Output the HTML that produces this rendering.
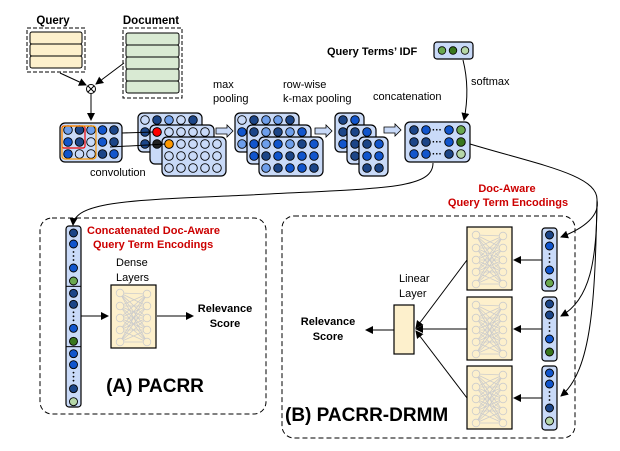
<!DOCTYPE html>
<html><head><meta charset="utf-8"><style>
html,body{margin:0;padding:0;background:#fff;width:620px;height:451px;overflow:hidden}
svg text{font-family:"Liberation Sans",Arial,sans-serif}
</style></head><body>
<svg id="s" width="620" height="451" viewBox="0 0 620 451" xmlns="http://www.w3.org/2000/svg">
<defs>
<marker id="ah" markerWidth="8" markerHeight="8" refX="7" refY="4" orient="auto" markerUnits="userSpaceOnUse"><path d="M0,0 L8,4 L0,8 z" fill="#000"/></marker>
<g id="nn">
 <rect x="0" y="0" width="45" height="63" fill="#fdf0cc" stroke="#000" stroke-width="1.2"/>
 <g stroke="#ccc" stroke-width="0.8" fill="none">
  <path d="M9,8 L36,9 M9,8 L36,21 M9,8 L36,33 M9,8 L36,45 M9,8 L36,57 M9,21 L36,9 M9,21 L36,21 M9,21 L36,33 M9,21 L36,45 M9,21 L36,57 M9,33 L36,9 M9,33 L36,21 M9,33 L36,33 M9,33 L36,45 M9,33 L36,57 M9,45 L36,9 M9,45 L36,21 M9,45 L36,33 M9,45 L36,45 M9,45 L36,57 M9,57 L36,9 M9,57 L36,21 M9,57 L36,33 M9,57 L36,45 M9,57 L36,57"/>
  <circle cx="9" cy="8" r="3.8" fill="#fdf0cc"/><circle cx="9" cy="21" r="3.8" fill="#fdf0cc"/><circle cx="9" cy="33" r="3.8" fill="#fdf0cc"/><circle cx="9" cy="45" r="3.8" fill="#fdf0cc"/><circle cx="9" cy="57" r="3.8" fill="#fdf0cc"/>
  <circle cx="36" cy="9" r="3.8" fill="#fdf0cc"/><circle cx="36" cy="21" r="3.8" fill="#fdf0cc"/><circle cx="36" cy="33" r="3.8" fill="#fdf0cc"/><circle cx="36" cy="45" r="3.8" fill="#fdf0cc"/><circle cx="36" cy="57" r="3.8" fill="#fdf0cc"/>
 </g>
</g>
</defs>

<text x="53" y="24" font-size="11.5" font-weight="bold" text-anchor="middle">Query</text>
<rect x="27" y="28" width="58" height="44" fill="none" stroke="#000" stroke-dasharray="4,2"/>
<rect x="30" y="32" width="52" height="12" rx="2" fill="#fdf0cc" stroke="#000"/>
<rect x="30" y="44" width="52" height="12" rx="2" fill="#fdf0cc" stroke="#000"/>
<rect x="30" y="56" width="52" height="12" rx="2" fill="#fdf0cc" stroke="#000"/>
<text x="151" y="24" font-size="11.5" font-weight="bold" text-anchor="middle">Document</text>
<rect x="123" y="28" width="59" height="70" fill="none" stroke="#000" stroke-dasharray="4,2"/>
<rect x="126" y="33" width="53" height="12" rx="2" fill="#d9ead3" stroke="#000"/>
<rect x="126" y="45" width="53" height="12" rx="2" fill="#d9ead3" stroke="#000"/>
<rect x="126" y="57" width="53" height="12" rx="2" fill="#d9ead3" stroke="#000"/>
<rect x="126" y="69" width="53" height="12" rx="2" fill="#d9ead3" stroke="#000"/>
<rect x="126" y="81" width="53" height="12" rx="2" fill="#d9ead3" stroke="#000"/>
<line x1="60" y1="73" x2="86" y2="85" stroke="#000" marker-end="url(#ah)"/>
<line x1="124" y1="63" x2="96" y2="84" stroke="#000" marker-end="url(#ah)"/>
<circle cx="91" cy="89" r="4.5" fill="#fff" stroke="#000"/>
<path d="M88,86 L94,92 M94,86 L88,92" stroke="#000"/>
<line x1="91" y1="94" x2="91" y2="120" stroke="#000" marker-end="url(#ah)"/>

<g id="mats"></g>

<text x="90" y="176" font-size="11">convolution</text>
<text x="213" y="88" font-size="11">max</text>
<text x="213" y="102" font-size="11">pooling</text>
<text x="283" y="88" font-size="11">row-wise</text>
<text x="283" y="102" font-size="11">k-max pooling</text>
<text x="373" y="100" font-size="11">concatenation</text>
<text x="327" y="55" font-size="11" font-weight="bold">Query Terms’ IDF</text>
<text x="471" y="85" font-size="11">softmax</text>

<path d="M216,128 h11 v-3 l6,6 l-6,6 v-3 h-11 z" fill="#c9daf8" stroke="#000" stroke-width="0.8"/>
<path d="M315,128 h11 v-3 l6,6 l-6,6 v-3 h-11 z" fill="#c9daf8" stroke="#000" stroke-width="0.8"/>
<path d="M384,127 h11 v-3 l6,6 l-6,6 v-3 h-11 z" fill="#c9daf8" stroke="#000" stroke-width="0.8"/>

<rect x="434" y="42" width="39" height="17" rx="3" fill="#c9daf8" stroke="#000" stroke-width="1.2"/>
<circle cx="442" cy="50.5" r="3.8" fill="#6aa84f" stroke="#000" stroke-width="0.8"/>
<circle cx="453" cy="50.5" r="3.8" fill="#38761d" stroke="#000" stroke-width="0.8"/>
<circle cx="465" cy="50.5" r="3.8" fill="#b6d7a8" stroke="#000" stroke-width="0.8"/>
<path d="M463,60 C468,80 468,100 464,120" fill="none" stroke="#000" marker-end="url(#ah)"/>

<path d="M433,163 C433,190 380,188 250,195 C140,200 75,200 73,225" fill="none" stroke="#000" marker-end="url(#ah)"/>
<path d="M470,144 C540,165 598,175 597,200" fill="none" stroke="#000"/>
<path d="M597,200 C600,215 585,228 561,237" fill="none" stroke="#000" marker-end="url(#ah)"/>
<path d="M597,200 C597,260 590,300 561,316" fill="none" stroke="#000" marker-end="url(#ah)"/>
<path d="M597,200 C595,300 592,370 561,396" fill="none" stroke="#000" marker-end="url(#ah)"/>

<rect x="40" y="218" width="226" height="196" rx="12" fill="none" stroke="#000" stroke-dasharray="5,3"/>
<text x="87" y="234" font-size="11" font-weight="bold" fill="#cc0000">Concatenated Doc-Aware</text>
<text x="93" y="248" font-size="11" font-weight="bold" fill="#cc0000">Query Term Encodings</text>
<text x="116" y="266" font-size="11">Dense</text>
<text x="116" y="281" font-size="11">Layers</text>
<use href="#nn" x="111" y="285"/>
<line x1="80" y1="316" x2="108" y2="316" stroke="#000" marker-end="url(#ah)"/>
<line x1="157" y1="316" x2="193" y2="316" stroke="#000" marker-end="url(#ah)"/>
<text x="225" y="312" font-size="11" font-weight="bold" text-anchor="middle">Relevance</text>
<text x="225" y="327" font-size="11" font-weight="bold" text-anchor="middle">Score</text>
<text x="155" y="392" font-size="19" font-weight="bold" text-anchor="middle">(A) PACRR</text>

<rect x="282" y="216" width="293" height="222" rx="12" fill="none" stroke="#000" stroke-dasharray="5,3"/>
<text x="507" y="192" font-size="11" font-weight="bold" fill="#cc0000" text-anchor="middle">Doc-Aware</text>
<text x="508" y="206" font-size="11" font-weight="bold" fill="#cc0000" text-anchor="middle">Query Term Encodings</text>
<use href="#nn" x="467" y="227"/>
<use href="#nn" x="467" y="297"/>
<use href="#nn" x="467" y="366"/>
<text x="399" y="282" font-size="11">Linear</text>
<text x="399" y="297" font-size="11">Layer</text>
<rect x="394" y="305" width="20" height="49" fill="#fdf0cc" stroke="#000" stroke-width="1.2"/>
<line x1="542" y1="260" x2="514" y2="260" stroke="#000" marker-end="url(#ah)"/>
<line x1="542" y1="329" x2="514" y2="329" stroke="#000" marker-end="url(#ah)"/>
<line x1="542" y1="398" x2="514" y2="398" stroke="#000" marker-end="url(#ah)"/>
<line x1="467" y1="260" x2="416" y2="328" stroke="#000" marker-end="url(#ah)"/>
<line x1="467" y1="329" x2="416" y2="329" stroke="#000" marker-end="url(#ah)"/>
<line x1="467" y1="398" x2="416" y2="331" stroke="#000" marker-end="url(#ah)"/>
<line x1="394" y1="330" x2="366" y2="330" stroke="#000" marker-end="url(#ah)"/>
<text x="328" y="325" font-size="11" font-weight="bold" text-anchor="middle">Relevance</text>
<text x="328" y="340" font-size="11" font-weight="bold" text-anchor="middle">Score</text>
<text x="285" y="421" font-size="19" font-weight="bold">(B) PACRR-DRMM</text>
<g id="cols"></g>
</svg>
<script>
var NS="http://www.w3.org/2000/svg";
var C={D:"#1c4587",B:"#1155cc",L:"#6d9eeb",W:"#c9daf8",G:"#6aa84f",g:"#38761d",l:"#b6d7a8",R:"#ff0000",O:"#ff9900",K:"#222"};
function el(p,t,a){var e=document.createElementNS(NS,t);for(var k in a)e.setAttribute(k,a[k]);p.appendChild(e);return e;}
var M=document.getElementById("mats"),CO=document.getElementById("cols");
function mat(x,y,w,h,x0,y0,pat,dx){
 el(M,"rect",{x:x,y:y,width:w,height:h,rx:5,fill:"#c9daf8",stroke:"#000","stroke-width":1.2});
 for(var r=0;r<pat.length;r++)for(var c=0;c<pat[r].length;c++){var ch=pat[r][c];if(ch==".")continue;
  el(M,"circle",{cx:x0+c*dx,cy:y0+r*12,r:4.3,fill:C[ch],stroke:"#000","stroke-width":0.9});}
}
mat(60,123,62,39,68,130,["LDLBD","BDWBD","BWWDB"],11.5);
el(M,"rect",{x:62,y:126,width:23,height:22,rx:2,fill:"none",stroke:"#e00","stroke-width":1.2});
el(M,"rect",{x:62,y:126,width:34,height:33,rx:3,fill:"none",stroke:"#f90","stroke-width":1.2});
mat(138,113,64,39,145,120,["WDLWD","D....","D...."],12);
mat(150,125,64,39,157,132,["RWWWW","K....","....."],12);
mat(162,137,64,39,169,144,["OWWWW","WWWWW","WWWWW"],12);
el(M,"line",{x1:122,y1:133,x2:154,y2:132,stroke:"#000"});
el(M,"line",{x1:110,y1:147,x2:166,y2:144,stroke:"#000"});
el(M,"circle",{cx:157,cy:132,r:4.3,fill:"#f00",stroke:"#000","stroke-width":0.9});
el(M,"circle",{cx:169,cy:144,r:4.3,fill:"#f90",stroke:"#000","stroke-width":0.9});
mat(235,113,64,39,242,120,["WDLLD","B....","L...."],12);
mat(247,125,64,39,254,132,["DLDLB","B....","B...."],12);
mat(259,137,64,39,266,144,["LBLDB","DBDBB","LDBBD"],12);
mat(335,113,29,39,343,120,["DB","D.","B."],12);
mat(347,125,29,39,355,132,["DB","D.","D."],12);
mat(359,137,29,39,367,144,["DB","BB","DD"],12);
el(M,"rect",{x:405,y:122,width:65,height:40,rx:5,fill:"#c9daf8",stroke:"#000","stroke-width":1.2});
var cp=[["D","B","B","G"],["D","D","B","g"],["B","B","D","l"]],cx=[414,426,449,461];
for(var r=0;r<3;r++){for(var c=0;c<4;c++)el(M,"circle",{cx:cx[c],cy:130+r*12,r:4.3,fill:C[cp[r][c]],stroke:"#000","stroke-width":0.9});
 var t=el(M,"text",{x:432,y:133+r*12,"font-size":10,"font-weight":"bold"});t.textContent="···";}
function col(x,y,h,segs){
 el(CO,"rect",{x:x,y:y,width:15,height:h,rx:3,fill:"#c9daf8",stroke:"#000","stroke-width":1.2});
 var yy=y;segs.forEach(function(s){
  var ys=[yy+7,yy+18,yy+42,yy+55];
  for(var i=0;i<4;i++)el(CO,"circle",{cx:x+7.5,cy:ys[i],r:4,fill:C[s[i]],stroke:"#000","stroke-width":0.9});
  for(var d=0;d<3;d++)el(CO,"circle",{cx:x+7.5,cy:yy+26+d*4,r:0.9,fill:"#000"});
  yy+=h/segs.length;
  if(yy<y+h-2)el(CO,"line",{x1:x,y1:yy,x2:x+15,y2:yy,stroke:"#000","stroke-width":1});
 });
}
col(66,226,181,["DBBG","DDBg","BBDl"]);
col(542,228,63,["DBBG"]);
col(542,297,64,["DDBg"]);
col(542,366,64,["BBDl"]);
</script>
</body></html>
